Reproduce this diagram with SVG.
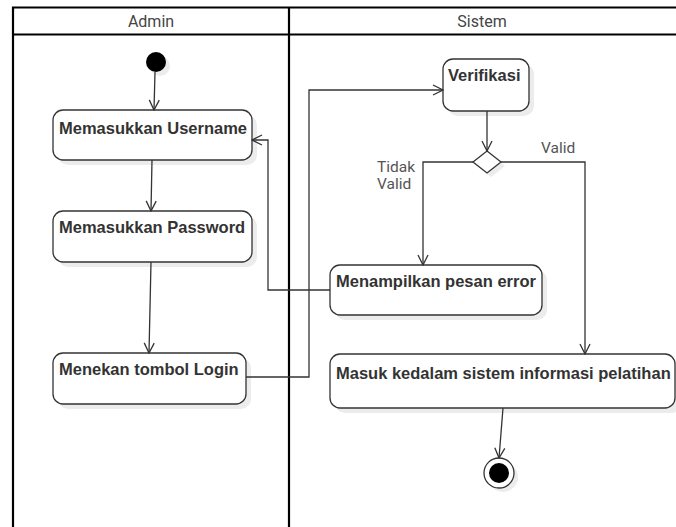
<svg xmlns="http://www.w3.org/2000/svg" width="676" height="527" viewBox="0 0 676 527">
<defs>
<style>
.lane{fill:none;stroke:#000;stroke-width:2.2}
.hdr{font-family:Roboto,"Liberation Sans",sans-serif;font-size:16px;fill:#444;text-anchor:middle}
.node{fill:#fff;stroke:#333;stroke-width:1.3}
.shadow{fill:#ececec}
.lbl{font-family:"Liberation Sans",Arial,sans-serif;font-size:16.5px;font-weight:bold;fill:#333}
.guard{font-family:Roboto,"Liberation Sans",sans-serif;font-size:15.5px;fill:#555}
.edge{fill:none;stroke:#333;stroke-width:1.3}
</style>
<marker id="arr" viewBox="0 0 12 12" refX="11" refY="6" markerWidth="12" markerHeight="12" markerUnits="userSpaceOnUse" orient="auto">
<path d="M1,1 L11,6 L1,11" fill="none" stroke="#333" stroke-width="1.3"/>
</marker>
</defs>
<rect width="676" height="527" fill="#fff"/>
<g id="lanes">
<path class="lane" d="M13,527 V7.5 H676 M13,34.5 H676 M289,7.5 V527"/>
<text class="hdr" x="151" y="27">Admin</text>
<text class="hdr" x="482" y="27">Sistem</text>
</g>
<g id="start">
<circle cx="160" cy="66" r="10" class="shadow"/>
<circle cx="156" cy="62" r="10" fill="#000"/>
</g>
<g id="username">
<rect x="58" y="115" width="199" height="50" rx="10" class="shadow"/>
<rect x="53" y="110" width="199" height="50" rx="10" class="node"/>
<text class="lbl" x="59" y="134">Memasukkan Username</text>
</g>
<g id="password">
<rect x="58" y="216" width="199" height="51" rx="10" class="shadow"/>
<rect x="53" y="211" width="199" height="51" rx="10" class="node"/>
<text class="lbl" x="59" y="233">Memasukkan Password</text>
</g>
<g id="login">
<rect x="58" y="358" width="193" height="51" rx="10" class="shadow"/>
<rect x="53" y="353" width="193" height="51" rx="10" class="node"/>
<text class="lbl" x="59" y="375">Menekan tombol Login</text>
</g>
<g id="verifikasi">
<rect x="448" y="64" width="86" height="52" rx="10" class="shadow"/>
<rect x="443" y="59" width="86" height="52" rx="10" class="node"/>
<text class="lbl" x="448" y="81">Verifikasi</text>
</g>
<g id="decision">
<path d="M491,155 L505,166 L491,177 L477,166 Z" class="shadow"/>
<path d="M487,151 L501,162 L487,173 L473,162 Z" class="node"/>
</g>
<g id="error">
<rect x="335" y="270" width="212" height="50" rx="10" class="shadow"/>
<rect x="330" y="265" width="212" height="50" rx="10" class="node"/>
<text class="lbl" x="336" y="287">Menampilkan pesan error</text>
</g>
<g id="masuk">
<rect x="335" y="359" width="346" height="54" rx="10" class="shadow"/>
<rect x="330" y="354" width="345" height="54" rx="10" class="node"/>
<text class="lbl" x="336" y="379">Masuk kedalam sistem informasi pelatihan</text>
</g>
<g id="end">
<circle cx="503" cy="477" r="15" class="shadow"/>
<circle cx="499" cy="473" r="15" fill="#fff" stroke="#333" stroke-width="1.3"/>
<circle cx="499" cy="473" r="10" fill="#000"/>
</g>
<g id="connectors">
<path class="edge" d="M155,72 L154,110" marker-end="url(#arr)"/>
<path class="edge" d="M152,160 L151,211" marker-end="url(#arr)"/>
<path class="edge" d="M151,262 L149,353" marker-end="url(#arr)"/>
<path class="edge" d="M246,377 H309 V90 H443" marker-end="url(#arr)"/>
<path class="edge" d="M487,111 V151" marker-end="url(#arr)"/>
<path class="edge" d="M473,162 H423 V265" marker-end="url(#arr)"/>
<path class="edge" d="M501,162 H585 V354" marker-end="url(#arr)"/>
<path class="edge" d="M330,290 H268 V140 H252" marker-end="url(#arr)"/>
<path class="edge" d="M503,408 L499,458" marker-end="url(#arr)"/>
<text class="guard" x="377" y="172">Tidak</text>
<text class="guard" x="377" y="189">Valid</text>
<text class="guard" x="541" y="153">Valid</text>
</g>
</svg>
